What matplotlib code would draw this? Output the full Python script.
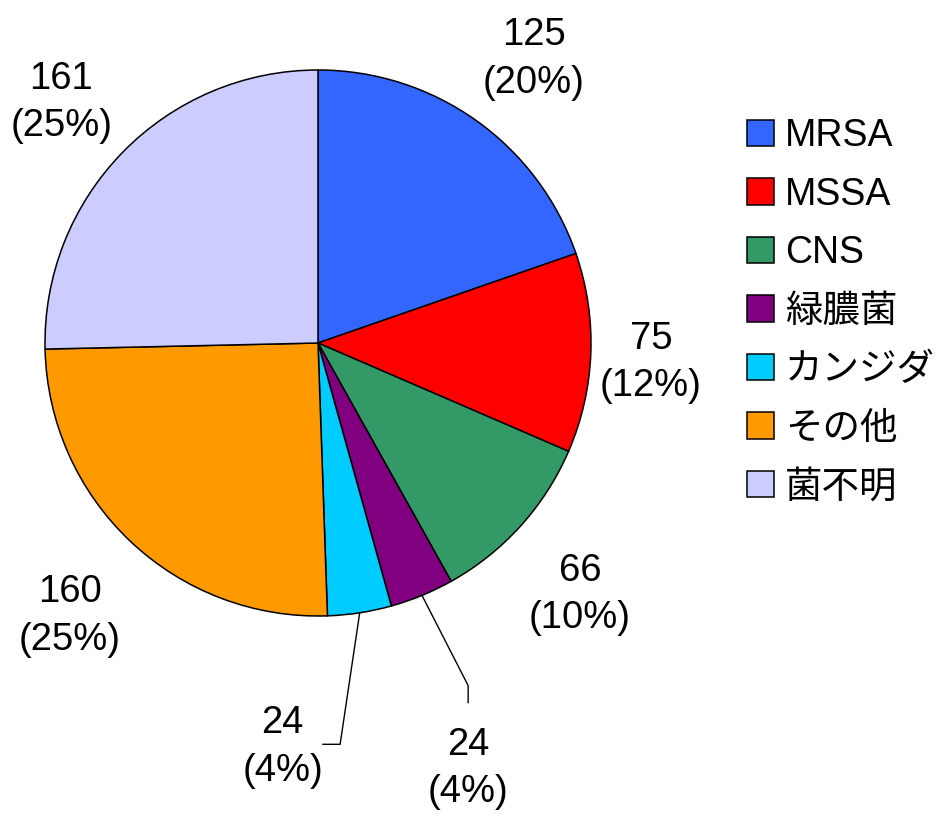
import matplotlib
matplotlib.use('Agg')
import matplotlib.pyplot as plt
import numpy as np

# ------------------------------ DATA ------------------------------
categories = ['MRSA', 'MSSA', 'CNS', '緑膿菌', 'カンジダ', 'その他', '菌不明']
counts = [125, 75, 66, 24, 24, 160, 161]
percent_labels = ['20%', '12%', '10%', '4%', '4%', '25%', '25%']
colors = ['#3366FF', '#FF0000', '#339966', '#800080', '#00CCFF', '#FF9900', '#CCCCFF']

# label positions in units of the pie radius (layout only)
label_pos = [(0.79, 1.04), (1.22, -0.07), (0.96, -0.92),
             (0.55, -1.56), (-0.13, -1.48), (-0.91, -1.0), (-0.94, 0.88)]

plt.rcParams['font.family'] = ['Liberation Sans', 'Noto Sans CJK JP', 'DejaVu Sans']

fig = plt.figure(figsize=(9.36, 8.19), dpi=100)
ax = fig.add_axes([0, 0, 1, 1])

wedges, _ = ax.pie(counts, colors=colors, startangle=90, counterclock=False,
                   radius=1, center=(0, 0),
                   wedgeprops=dict(edgecolor='black', linewidth=1.1))

# limits so the pie sits where it does in the original picture
scale = 273.0
ax.set_xlim(-318 / scale, (936 - 318) / scale)
ax.set_ylim(-(819 - 343) / scale, 343 / scale)
ax.axis('off')

for i, (n, p) in enumerate(zip(counts, percent_labels)):
    x, y = label_pos[i]
    ax.text(x, y, f'{n}\n({p})', ha='center', va='center', fontsize=27.5,
            linespacing=1.4)

# leader lines for the two small slices
def edge_point(w):
    ang = np.deg2rad((w.theta1 + w.theta2) / 2)
    return np.cos(ang), np.sin(ang)

px, py = edge_point(wedges[3])
ax.plot([px, 0.55, 0.55], [py, -1.255, -1.317], color='black', lw=1.0)
px, py = edge_point(wedges[4])
ax.plot([px, 0.081, 0.018], [py, -1.47, -1.47], color='black', lw=1.0)

leg = fig.legend(wedges, categories, loc='upper left', bbox_to_anchor=(0.782, 0.874),
                 frameon=False, fontsize=27, handlelength=0.72, handleheight=0.72,
                 handletextpad=0.3, labelspacing=0.6, borderaxespad=0)

fig.savefig('out.png', dpi=100)
